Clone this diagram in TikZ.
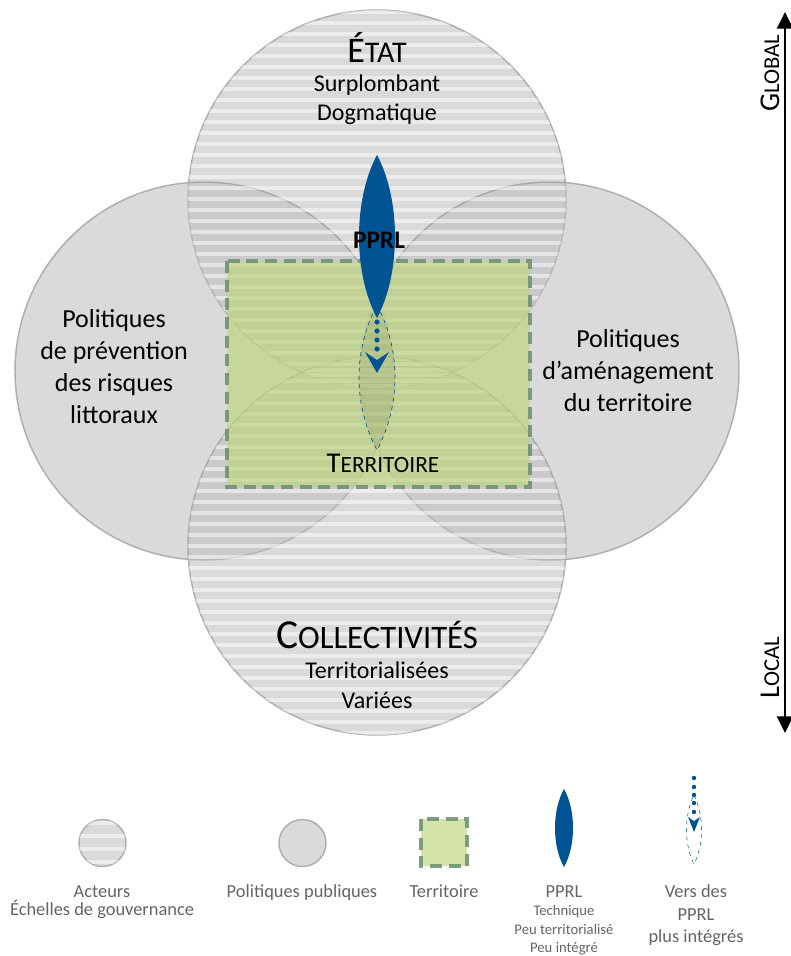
\documentclass[tikz,border=0pt]{standalone}
\usepackage{fontspec}
\setmainfont{Carlito}
\usepackage{xcolor}
\usetikzlibrary{arrows.meta}
\definecolor{circlegray}{RGB}{188, 188, 188}
\definecolor{edgegray}{RGB}{160, 160, 160}
\definecolor{terrgreen}{RGB}{189, 212, 120}
\definecolor{terredge}{RGB}{112, 146, 116}
\definecolor{pprlblue}{RGB}{0, 84, 147}
\definecolor{legendtext}{RGB}{100, 100, 100}
% capital then smaller capitals
\newcommand{\capsmall}[4]{{\fontsize{#1}{#1}\selectfont #3}{\fontsize{#2}{#2}\selectfont #4}}

\begin{document}
\begin{tikzpicture}[x=0.75pt,y=-0.75pt,
    policy/.style={fill=circlegray,fill opacity=.55,draw=edgegray,draw opacity=.8,line width=1.1pt},
    stripes/.style={white,opacity=.5,line width=3pt},
    terr/.style={fill=terrgreen,fill opacity=.65,draw=terredge,draw opacity=.9,line width=2.6pt,dash pattern=on 9pt off 5pt},
    lbl/.style={anchor=base,inner sep=0pt,font=\fontsize{18}{18}\selectfont},
    side/.style={lbl,font=\fontsize{19.5}{19.5}\selectfont},
    leg/.style={anchor=base,inner sep=0pt,text=legendtext,font=\fontsize{13.8}{13.8}\selectfont},
    legsmall/.style={leg,font=\fontsize{11}{11}\selectfont}]
        \useasboundingbox (0,0) rectangle (791,956);
        % Actors and public policies
        \foreach \cx/\cy in {377/199,204/371,550/371,377/546}
            \draw[policy] (\cx,\cy) circle (189);
        \foreach \cy in {199,546} {
            \begin{scope}
                \clip (377,\cy) circle (189);
                \foreach \y in {-187,-176,...,187}
                    \draw[stripes] (186,\cy+\y) -- (568,\cy+\y);
            \end{scope}
        }
        % Territory
        \draw[terr] (227,261) rectangle (530,487);
        % PPRL and its way down
        \draw[pprlblue,dashed,line width=.5pt,fill=black,fill opacity=.07] (377,305) .. controls (401,350) and (401,405) .. (377,450) .. controls (353,405) and (353,350) .. (377,305);
        \fill[pprlblue] (377,155) .. controls (401,200) and (401,273) .. (377,318) .. controls (353,273) and (353,200) .. (377,155);
        \foreach \y in {322,331,340,349}
            \fill[pprlblue] (377,\y) circle (2.6);
        \fill[pprlblue] (365,352) -- (377,360) -- (389,352) -- (377,373) -- cycle;
        % Texts
        \node[lbl] (etat) at (377,63) {\capsmall{27}{22.5}{É}{TAT}};
        \node[lbl] (surplombant) at (377,92) {Surplombant};
        \node[lbl] (dogmatique) at (377,120) {Dogmatique};
        \foreach \txt [count=\i] in {Politiques,de prévention,des risques,littoraux}
            \node[side] (prevention\i) at (114,295+32*\i) {\txt};
        \foreach \txt [count=\i] in {Politiques,d'aménagement,du territoire}
            \node[side] (amenagement\i) at (628,315+32*\i) {\txt};
        \node[lbl] (collectivites) at (377,648) {\capsmall{31}{24.5}{C}{OLLECTIVITÉS}};
        \node[lbl] (territorialisees) at (377,678) {Territorialisées};
        \node[lbl] (variees) at (377,708) {Variées};
        \node[lbl,font=\bfseries\fontsize{19}{19}\selectfont] (pprl) at (379,248) {PPRL};
        \node[lbl] (territoire) at (383,472) {\capsmall{21.5}{17.5}{T}{ERRITOIRE}};
        % Scale axis
        \coordinate (global) at (785,12);
        \coordinate (local) at (785,733);
        \draw[line width=1.8pt,{Triangle[length=12.5pt,width=12pt]}-{Triangle[length=12.5pt,width=12pt]}] (local) -- (global);
        \node[rotate=90,inner sep=0pt] (globallbl) at (770,73) {\capsmall{21.5}{17}{G}{LOBAL}};
        \node[rotate=90,inner sep=0pt] (locallbl) at (770,668) {\capsmall{21.5}{17}{L}{OCAL}};
        % Legend
        \draw[policy] (102.5,843) circle (23.5);
        \begin{scope}
            \clip (102.5,843) circle (23.5);
            \foreach \y in {823,836,849,862}
                \draw[stripes] (78,\y) -- (127,\y);
        \end{scope}
        \draw[policy] (302.5,843) circle (23.5);
        \draw[terr] (421,819) rectangle (467,866);
        \fill[pprlblue] (564,789) .. controls (576,810) and (576,846) .. (564,867) .. controls (552,846) and (552,810) .. (564,789);
        \draw[pprlblue,dashed,line width=.4pt] (694,795) .. controls (704,815) and (704,845) .. (694,864) .. controls (684,845) and (684,815) .. (694,795);
        \foreach \y in {778,787,795,803,812}
            \fill[pprlblue] (694,\y) circle (2.2);
        \fill[pprlblue] (688,817) -- (694,821) -- (700,817) -- (694,832) -- cycle;
        \node[leg] (acteurs) at (102,897) {Acteurs};
        \node[leg] (echelles) at (102,915) {Échelles de gouvernance};
        \node[leg] (politiques) at (302,897) {Politiques publiques};
        \node[leg] (territoireleg) at (444,897) {Territoire};
        \node[leg] (pprlleg) at (564,897) {PPRL};
        \node[legsmall] (technique) at (564,915) {Technique};
        \node[legsmall] (peuterr) at (564,934) {Peu territorialisé};
        \node[legsmall] (peuintegre) at (564,952) {Peu intégré};
        \node[leg] (versdes) at (696,897) {Vers des};
        \node[leg] (pprlvers) at (696,920) {PPRL};
        \node[leg] (plusintegres) at (696,942) {plus intégrés};
    \end{tikzpicture}
\end{document}
